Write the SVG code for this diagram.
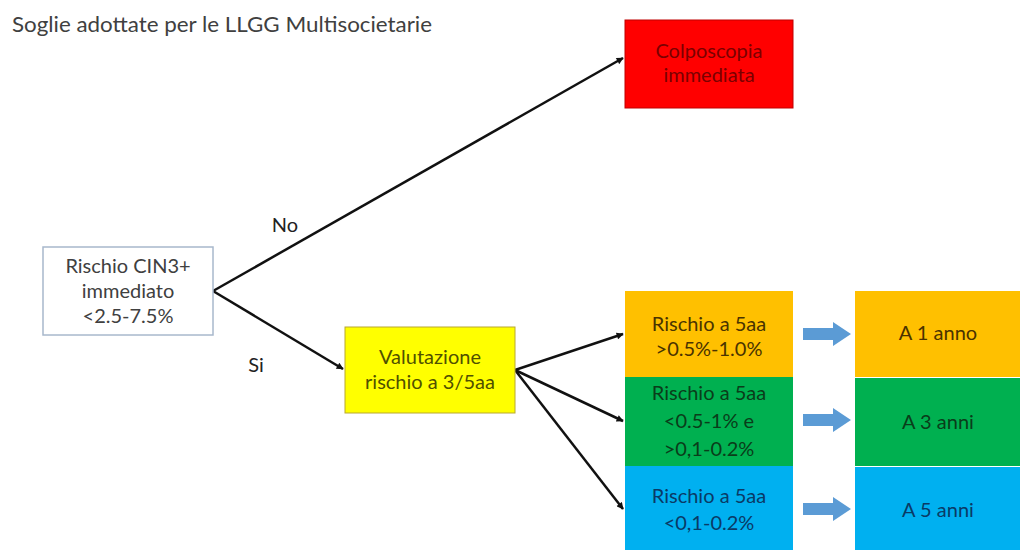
<svg xmlns="http://www.w3.org/2000/svg" width="1020" height="550" viewBox="0 0 1020 550">
  <defs>
    <marker id="tip" viewBox="0 0 10 10" refX="9" refY="5" markerWidth="8" markerHeight="7" markerUnits="userSpaceOnUse" orient="auto">
      <path d="M0,0 L10,5 L0,10 z" fill="#111"/>
    </marker>
    <path id="bigArrow" d="M0,-6 L30,-6 L30,-12 L48,0 L30,12 L30,6 L0,6 z" fill="#5b9bd5"/>
  </defs>
  <style>
    text { font-family: "Lato", "Open Sans", "Liberation Sans", sans-serif; font-size: 20px; text-anchor: middle; }
    .title { text-anchor: start; font-size: 21px; fill: #404040; }
    .lbl { fill: #222; }
    .edge { stroke: #111; stroke-width: 2.5; fill: none; marker-end: url(#tip); }
  </style>
  <rect width="1020" height="550" fill="#fff"/>

  <text class="title" x="12" y="32" textLength="420" lengthAdjust="spacingAndGlyphs">Soglie adottate per le LLGG Multisocietarie</text>

  <g id="connectors">
    <line class="edge" x1="213" y1="291" x2="623" y2="58"/>
    <line class="edge" x1="213" y1="291" x2="343" y2="369"/>
    <line class="edge" x1="515" y1="370" x2="623" y2="334"/>
    <line class="edge" x1="515" y1="370" x2="623" y2="421"/>
    <line class="edge" x1="515" y1="370" x2="623" y2="509"/>
    <use href="#bigArrow" x="803" y="334"/>
    <use href="#bigArrow" x="803" y="420"/>
    <use href="#bigArrow" x="803" y="509"/>
    <text class="lbl" x="285" y="232">No</text>
    <text class="lbl" x="256" y="372">Si</text>
  </g>

  <g id="colposcopia">
    <rect x="625" y="20" width="168" height="88" fill="#ff0000" stroke="#c00000" stroke-width="1"/>
    <text fill="#7a0000" x="709" y="58">Colposcopia</text>
    <text fill="#7a0000" x="709" y="82">immediata</text>
  </g>

  <g id="rischio-cin3">
    <rect x="43" y="247" width="170" height="88" fill="#fff" stroke="#a8b8cc" stroke-width="1.5"/>
    <text fill="#404040" x="128" y="273">Rischio CIN3+</text>
    <text fill="#404040" x="128" y="298">immediato</text>
    <text fill="#404040" x="128" y="323">&lt;2.5-7.5%</text>
  </g>

  <g id="valutazione">
    <rect x="345" y="327" width="170" height="86" fill="#ffff00" stroke="#b8a830" stroke-width="1"/>
    <text fill="#505000" x="430" y="364">Valutazione</text>
    <text fill="#505000" x="430" y="389">rischio a 3/5aa</text>
  </g>

  <g id="rischio-alto">
    <rect x="625" y="291" width="168" height="86" fill="#ffc000"/>
    <text fill="#4a3300" x="709" y="331">Rischio a 5aa</text>
    <text fill="#4a3300" x="709" y="356">&gt;0.5%-1.0%</text>
  </g>

  <g id="rischio-medio">
    <rect x="625" y="377" width="168" height="89" fill="#00b050"/>
    <text fill="#0a3d1a" x="709" y="400">Rischio a 5aa</text>
    <text fill="#0a3d1a" x="709" y="428">&lt;0.5-1% e</text>
    <text fill="#0a3d1a" x="709" y="456">&gt;0,1-0.2%</text>
  </g>

  <g id="rischio-basso">
    <rect x="625" y="466" width="168" height="84" fill="#00b0f0"/>
    <text fill="#0a3a66" x="709" y="503">Rischio a 5aa</text>
    <text fill="#0a3a66" x="709" y="530">&lt;0,1-0.2%</text>
  </g>

  <g id="a1anno">
    <rect x="855" y="291" width="165" height="86" fill="#ffc000"/>
    <text fill="#4a3300" x="938" y="340">A 1 anno</text>
  </g>

  <g id="a3anni">
    <rect x="855" y="378" width="165" height="88" fill="#00b050"/>
    <text fill="#0a3d1a" x="938" y="429">A 3 anni</text>
  </g>

  <g id="a5anni">
    <rect x="855" y="467" width="165" height="83" fill="#00b0f0"/>
    <text fill="#0a3a66" x="938" y="517">A 5 anni</text>
  </g>
</svg>
